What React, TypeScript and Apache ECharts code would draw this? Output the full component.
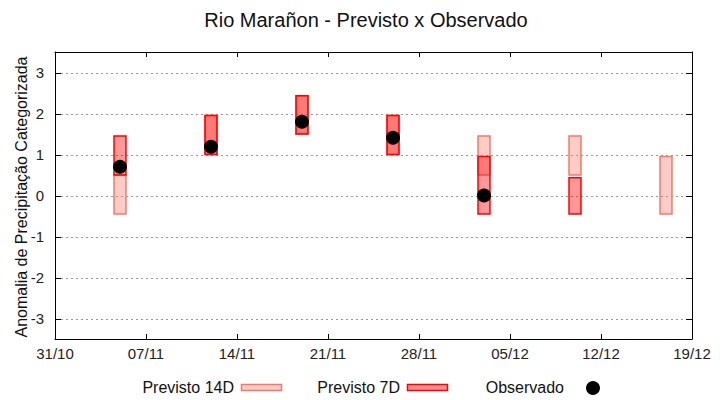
import React, { useEffect, useRef } from "react";
import * as echarts from "echarts";

const START = "2023-10-31";
const END = "2023-12-19";
const TICK_DAYS = 7;
const yTicks = [-3, -2, -1, 0, 1, 2, 3];

const dates14 = ["2023-11-05", "2023-11-12", "2023-11-19", "2023-11-26", "2023-12-03", "2023-12-10", "2023-12-17"];
const low14 = [-0.45, 1.0, 1.5, 1.0, 0.5, 0.5, -0.45];
const high14 = [0.5, 1.95, 2.43, 1.95, 1.45, 1.45, 0.95];

const dates7 = ["2023-11-05", "2023-11-12", "2023-11-19", "2023-11-26", "2023-12-03", "2023-12-10"];
const low7 = [0.5, 1.0, 1.5, 1.0, -0.45, -0.45];
const high7 = [1.45, 1.95, 2.43, 1.95, 0.95, 0.43];

const datesObs = ["2023-11-05", "2023-11-12", "2023-11-19", "2023-11-26", "2023-12-03"];
const obsValues = [0.7, 1.19, 1.8, 1.41, 0.0];

const TITLE = "Rio Marañon - Previsto x Observado";
const Y_NAME = "Anomalia de Precipitação Categorizada";
const LEGEND = ["Previsto 14D", "Previsto 7D", "Observado"];

const DAY = 86400000;
const dayOf = (d: string) => Math.round((Date.parse(d) - Date.parse(START)) / DAY);
const MAX_DAY = dayOf(END);
const FONT = "Liberation Sans, Arial, sans-serif";

const fmtDate = (v: number) => {
  const d = new Date(Date.parse(START) + v * DAY);
  const dd = String(d.getUTCDate()).padStart(2, "0");
  const mm = String(d.getUTCMonth() + 1).padStart(2, "0");
  return `${dd}/${mm}`;
};

const boxRenderer = (fill: string, stroke: string) => (params: any, api: any) => {
  const x = api.value(0);
  const lo = api.value(1);
  const hi = api.value(2);
  const top = api.coord([x, hi]);
  const bot = api.coord([x, lo]);
  const w = api.size([1, 0])[0] * 0.92;
  return {
    type: "rect",
    shape: { x: top[0] - w / 2, y: top[1], width: w, height: bot[1] - top[1] },
    style: { fill, stroke, lineWidth: 1.5 },
  };
};

export default function App() {
  const ref = useRef<HTMLDivElement>(null);
  useEffect(() => {
    document.body.style.margin = "0";
    const chart = echarts.init(ref.current!, null, { renderer: "svg" });
    const c14 = { fill: "rgba(250,128,114,0.4)", stroke: "rgb(245,120,105)" };
    const c7 = { fill: "rgba(255,0,0,0.4)", stroke: "#ff0000" };
    const axisText = { fontSize: 15, color: "#222", fontFamily: FONT };
    const option: any = {
      animation: false,
      textStyle: { fontFamily: FONT },
      grid: { left: 55, right: 28, top: 52, bottom: 61 },
      xAxis: [
        {
          type: "value", min: 0, max: MAX_DAY, interval: TICK_DAYS, position: "bottom",
          axisLine: { onZero: false, lineStyle: { color: "#000", width: 1 } },
          axisTick: { inside: true, length: 5, lineStyle: { color: "#000" } },
          axisLabel: { ...axisText, margin: 7, formatter: fmtDate },
          splitLine: { show: false },
        },
        {
          type: "value", min: 0, max: MAX_DAY, interval: TICK_DAYS, position: "top",
          axisLine: { onZero: false, lineStyle: { color: "#000", width: 1 } },
          axisTick: { inside: true, length: 5, lineStyle: { color: "#000" } },
          axisLabel: { show: false },
          splitLine: { show: false },
        },
      ],
      yAxis: [
        {
          type: "value", min: -3.5, max: 3.5, interval: 0.5, position: "left",
          axisLine: { show: true, onZero: false, lineStyle: { color: "#000", width: 1 } },
          axisTick: { show: false },
          axisLabel: {
            ...axisText, margin: 11,
            formatter: (v: number) => (Math.abs(v - Math.round(v)) < 1e-6 && Math.abs(v) <= 3 ? String(Math.round(v)) : ""),
          },
          splitLine: { show: false },
        },
        {
          type: "value", min: -3.5, max: 3.5, interval: 0.5, position: "right",
          axisLine: { show: true, onZero: false, lineStyle: { color: "#000", width: 1 } },
          axisTick: { show: false },
          axisLabel: { show: false },
          splitLine: { show: false },
        },
      ],
      series: [
        {
          type: "custom", name: "grid", silent: true, z: 1,
          data: yTicks.map((v) => [0, v]),
          encode: { x: 0, y: 1 },
          renderItem: (params: any, api: any) => {
            const v = api.value(1);
            const a = api.coord([0, v]);
            const b = api.coord([MAX_DAY, v]);
            const y = Math.round(a[1]) + 0.5;
            return {
              type: "group",
              children: [
                { type: "line", shape: { x1: a[0] + 1, y1: y, x2: b[0] - 1, y2: y }, style: { stroke: "#9a9a9a", lineWidth: 1, lineDash: [2, 3] } },
                { type: "line", shape: { x1: a[0], y1: y, x2: a[0] + 6, y2: y }, style: { stroke: "#000", lineWidth: 1 } },
                { type: "line", shape: { x1: b[0] - 6, y1: y, x2: b[0], y2: y }, style: { stroke: "#000", lineWidth: 1 } },
              ],
            };
          },
        },
        {
          type: "custom", name: LEGEND[0], z: 2,
          data: dates14.map((d, i) => [dayOf(d), low14[i], high14[i]]),
          encode: { x: 0, y: [1, 2] },
          renderItem: boxRenderer(c14.fill, c14.stroke),
        },
        {
          type: "custom", name: LEGEND[1], z: 3,
          data: dates7.map((d, i) => [dayOf(d), low7[i], high7[i]]),
          encode: { x: 0, y: [1, 2] },
          renderItem: boxRenderer(c7.fill, c7.stroke),
        },
        {
          type: "scatter", name: LEGEND[2], z: 4,
          data: datesObs.map((d, i) => [dayOf(d), obsValues[i]]),
          symbol: "circle", symbolSize: 14,
          itemStyle: { color: "#000", opacity: 1 },
        },
      ],
      graphic: [
        { type: "text", x: 366, y: 20, style: { text: TITLE, font: `20px ${FONT}`, fill: "#111", align: "center", verticalAlign: "middle" } },
        { type: "text", x: 21, y: 197, rotation: Math.PI / 2, style: { text: Y_NAME, font: `16px ${FONT}`, fill: "#111", align: "center", verticalAlign: "middle" } },
        { type: "text", x: 234, y: 387, style: { text: LEGEND[0], font: `16px ${FONT}`, fill: "#111", align: "right", verticalAlign: "middle" } },
        { type: "rect", shape: { x: 241.5, y: 384.5, width: 40, height: 6 }, style: { fill: "rgba(250,128,114,0.4)", stroke: "rgb(245,120,105)", lineWidth: 1.5 } },
        { type: "text", x: 400, y: 387, style: { text: LEGEND[1], font: `16px ${FONT}`, fill: "#111", align: "right", verticalAlign: "middle" } },
        { type: "rect", shape: { x: 407.5, y: 384.5, width: 40, height: 6 }, style: { fill: "rgba(255,0,0,0.45)", stroke: "#ff0000", lineWidth: 1.5 } },
        { type: "text", x: 564, y: 387, style: { text: LEGEND[2], font: `16px ${FONT}`, fill: "#111", align: "right", verticalAlign: "middle" } },
        { type: "circle", shape: { cx: 593, cy: 388, r: 7 }, style: { fill: "#000" } },
      ],
    };
    chart.setOption(option);
    return () => chart.dispose();
  }, []);
  return <div ref={ref} style={{ width: 720, height: 400 }} />;
}
